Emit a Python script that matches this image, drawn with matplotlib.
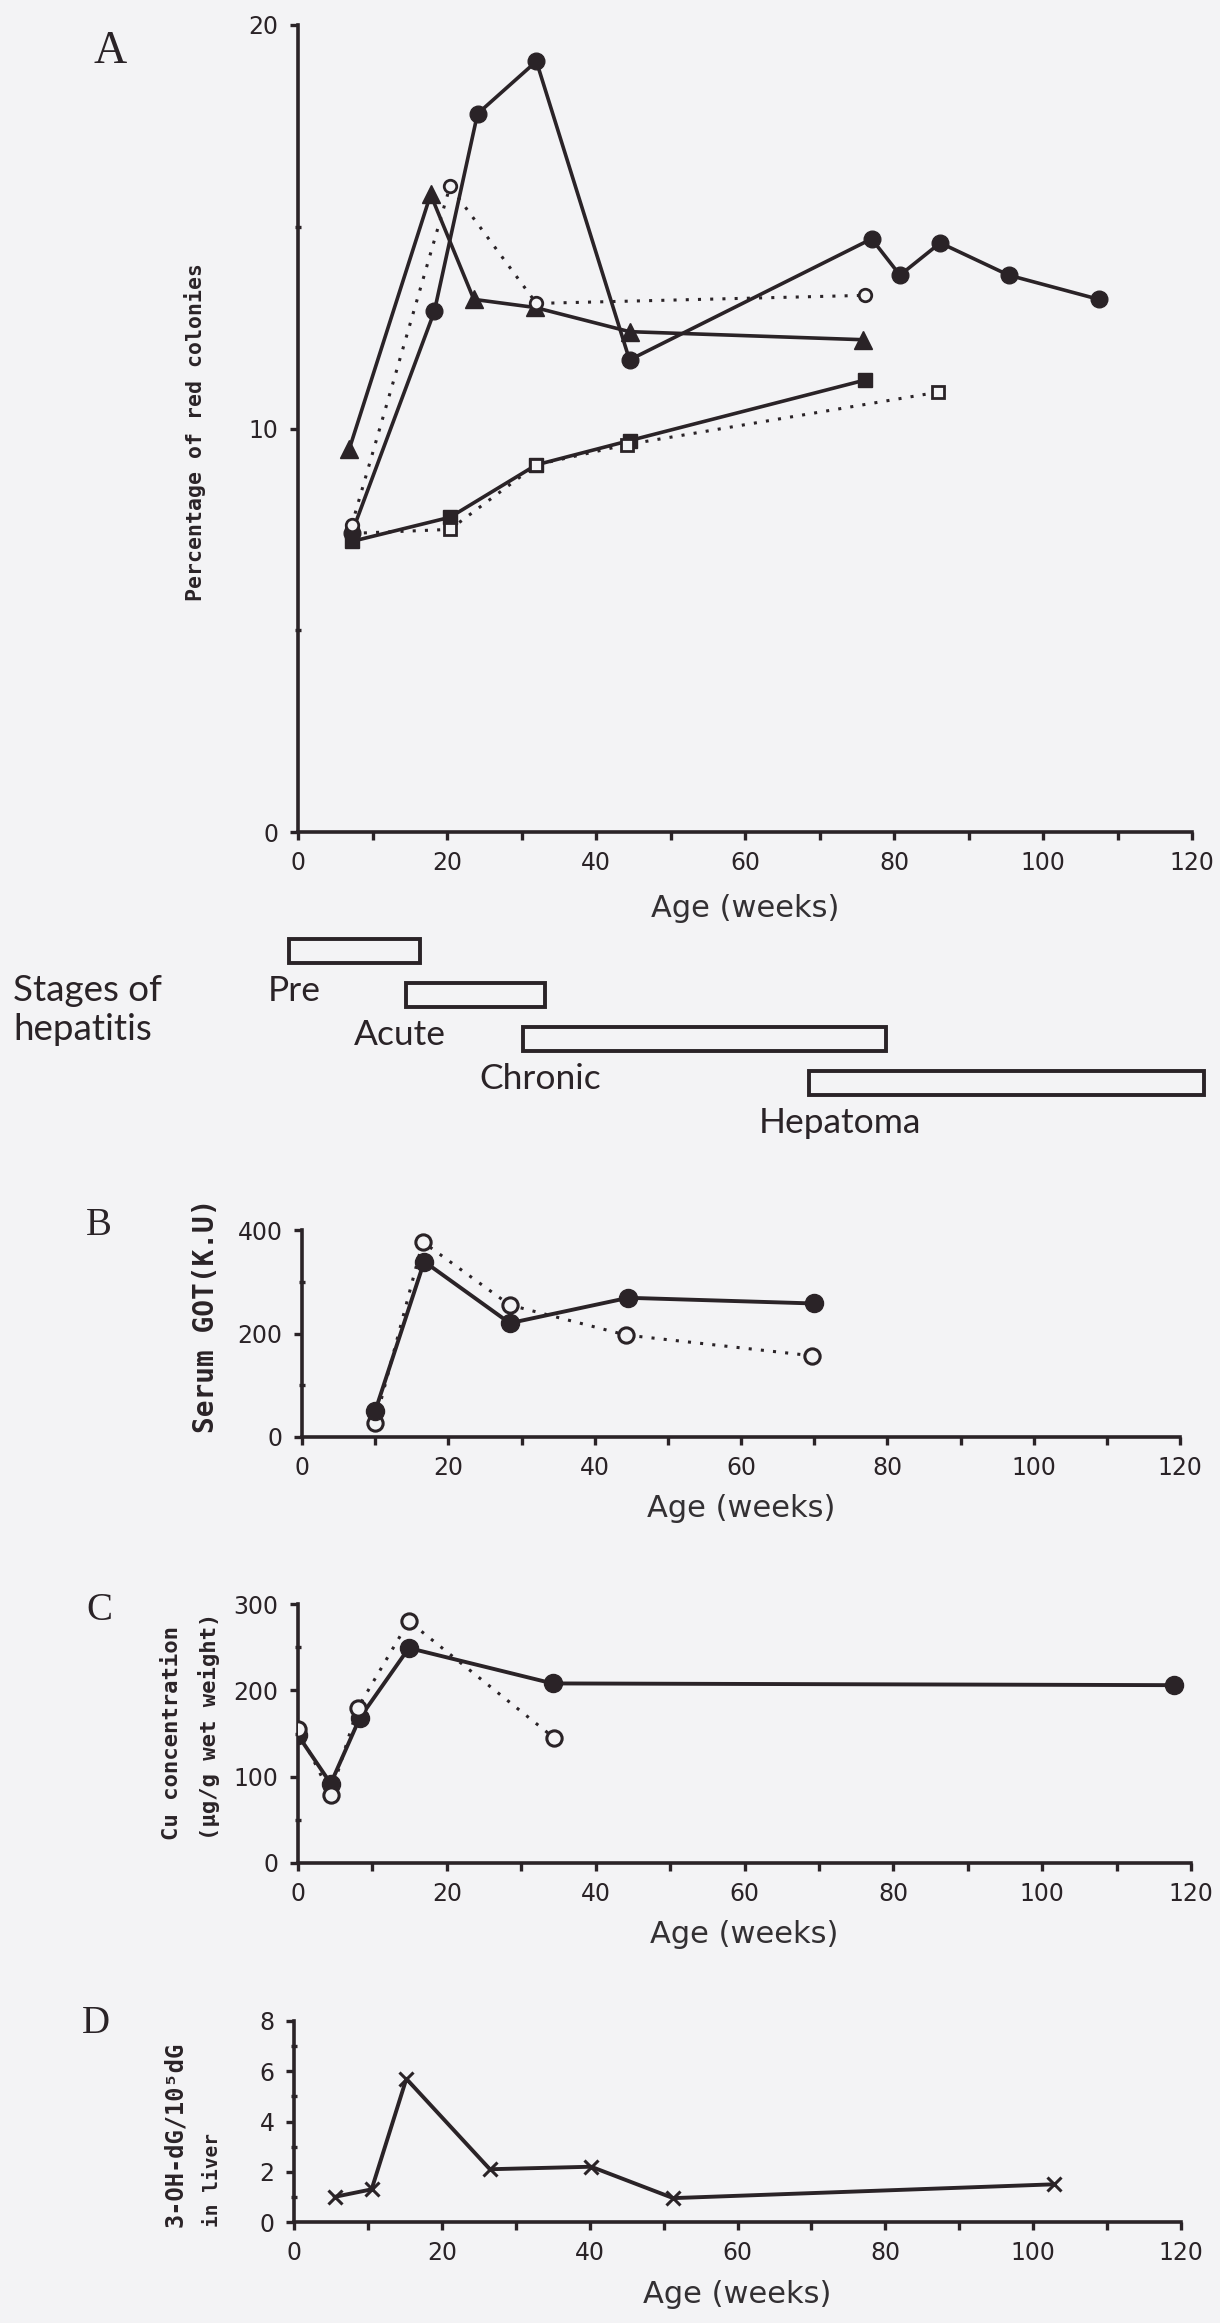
import numpy as np
import matplotlib.pyplot as plt
from matplotlib.ticker import MultipleLocator

# ---- data ----
# A: percentage of red colonies
a_fc_weeks = [7.2, 18.3, 24.1, 32.0, 44.5, 77.0, 80.8, 86.2, 95.4, 107.5]
a_fc_pct = [7.4, 12.9, 17.8, 19.1, 11.7, 14.7, 13.8, 14.6, 13.8, 13.2]
a_tri_weeks = [6.9, 17.8, 23.6, 31.8, 44.5, 75.9]
a_tri_pct = [9.5, 15.8, 13.2, 13.0, 12.4, 12.2]
a_oc_weeks = [7.2, 20.4, 32.0, 76.1]
a_oc_pct = [7.6, 16.0, 13.1, 13.3]
a_fs_weeks = [7.2, 20.4, 32.0, 44.5, 76.1]
a_fs_pct = [7.2, 7.8, 9.1, 9.7, 11.2]
a_os_weeks = [7.2, 20.4, 32.0, 44.1, 85.9]
a_os_pct = [7.4, 7.5, 9.1, 9.6, 10.9]

# stages of hepatitis (weeks)
stages = ['Pre', 'Acute', 'Chronic', 'Hepatoma']
stage_start = [-1.2, 14.5, 30.2, 68.6]
stage_end = [16.4, 33.2, 78.9, 121.6]

# B: serum GOT
b_fc_weeks = [10.0, 16.7, 28.4, 44.6, 70.0]
b_fc_got = [50, 339, 220, 269, 258]
b_oc_weeks = [10.0, 16.5, 28.4, 44.3, 69.7]
b_oc_got = [28, 377, 255, 197, 157]

# C: Cu concentration
c_fc_weeks = [0, 4.4, 8.3, 14.9, 34.2, 117.7]
c_fc_cu = [148, 92, 168, 249, 208, 206]
c_oc_weeks = [0, 4.4, 8.0, 14.9, 34.4]
c_oc_cu = [155, 79, 179, 280, 145]

# D: 3-OH-dG
d_weeks = [5.5, 10.5, 15.2, 26.5, 40.2, 51.3, 102.8]
d_ohdg = [1.0, 1.3, 5.7, 2.1, 2.2, 0.95, 1.5]

W, H = 1220, 2323
INK = '#2a2327'
BG = '#f3f3f5'
dotted = (0, (1, 3))
MONO = 'DejaVu Sans Mono'


def rect(x0, x1, ytop, ybot):
    return [x0 / W, 1 - ybot / H, (x1 - x0) / W, (ybot - ytop) / H]


fig = plt.figure(figsize=(W / 100, H / 100), dpi=100, facecolor=BG)


def style(ax, ymax, ymajor, yminor, label_top_px, ax_top, ax_bot):
    ax.set_facecolor('none')
    for s in ['top', 'right']:
        ax.spines[s].set_visible(False)
    for s in ['left', 'bottom']:
        ax.spines[s].set_linewidth(2.6)
        ax.spines[s].set_color(INK)
    ax.set_xlim(0, 120)
    ax.set_ylim(0, ymax)
    ax.xaxis.set_major_locator(MultipleLocator(20))
    ax.xaxis.set_minor_locator(MultipleLocator(10))
    ax.yaxis.set_major_locator(MultipleLocator(ymajor))
    ax.yaxis.set_minor_locator(MultipleLocator(yminor))
    ax.tick_params(axis='x', which='both', direction='out', length=6, width=2.4,
                   color=INK, labelsize=17, labelcolor=INK, pad=8)
    ax.tick_params(axis='y', which='major', direction='out', length=6, width=2.4,
                   color=INK, labelsize=17, labelcolor=INK, pad=8)
    ax.tick_params(axis='y', which='minor', direction='inout', length=5, width=2.4,
                   color=INK)
    ax.set_xlabel('Age (weeks)', fontsize=22, family='DejaVu Sans', color='#333033',
                  va='top')
    ax.xaxis.set_label_coords(0.5, (ax_bot - label_top_px) / (ax_bot - ax_top))


# ---- panel A ----
axA = fig.add_axes(rect(298, 1192, 25, 832))
style(axA, 20, 10, 5, 894, 25, 832)
axA.plot(a_fs_weeks, a_fs_pct, '-', color=INK, lw=2.6, marker='s', ms=10, zorder=3)
axA.plot(a_os_weeks, a_os_pct, linestyle=dotted, color=INK, lw=2.2, marker='s', ms=8,
         mfc=BG, mec=INK, mew=2, zorder=3)
axA.plot(a_oc_weeks, a_oc_pct, linestyle=dotted, color=INK, lw=2.2, marker='o', ms=9,
         mfc=BG, mec=INK, mew=2, zorder=4)
axA.plot(a_tri_weeks, a_tri_pct, '-', color=INK, lw=2.6, marker='^', ms=13, zorder=3)
axA.plot(a_fc_weeks, a_fc_pct, '-', color=INK, lw=2.6, marker='o', ms=12, zorder=3)
fig.text(195 / W, 1 - 432 / H, 'Percentage of red colonies', rotation=90,
         ha='center', va='center', fontsize=15.5, family=MONO,
         weight='bold', color=INK)

# ---- stages of hepatitis ----
axS = fig.add_axes(rect(298, 1192, 929, 1149))
axS.set_xlim(0, 120)
axS.set_ylim(4.5, -0.5)
axS.axis('off')
rows = np.arange(len(stages))
axS.barh(rows, np.array(stage_end) - np.array(stage_start), left=stage_start,
         height=0.53, color=BG, edgecolor=INK, linewidth=2.8, clip_on=False)
label_shift = [-2.8, -7.0, -5.9, -6.7]
for i, name in enumerate(stages):
    axS.text(stage_start[i] + label_shift[i], i + 1.13, name, fontsize=25.5,
             family='Lato', color=INK, ha='left', va='baseline', clip_on=False)
fig.text(13 / W, 1 - 1001 / H, 'Stages of', fontsize=26.5, family='Lato',
         color=INK, ha='left', va='baseline')
fig.text(13 / W, 1 - 1040 / H, 'hepatitis', fontsize=26.5, family='Lato',
         color=INK, ha='left', va='baseline')

# ---- panel B ----
axB = fig.add_axes(rect(302, 1180, 1230, 1437))
style(axB, 400, 200, 100, 1494, 1230, 1437)
axB.plot(b_oc_weeks, b_oc_got, linestyle=dotted, color=INK, lw=2.2, marker='o', ms=11,
         mfc=BG, mec=INK, mew=2.2, zorder=3)
axB.plot(b_fc_weeks, b_fc_got, '-', color=INK, lw=2.8, marker='o', ms=13, zorder=4)
fig.text(206 / W, 1 - 1316 / H, 'Serum GOT(K.U)', rotation=90, ha='center',
         va='center', fontsize=20, family=MONO, weight='bold', color=INK)

# ---- panel C ----
axC = fig.add_axes(rect(298, 1191, 1604, 1863))
style(axC, 300, 100, 50, 1920, 1604, 1863)
axC.plot(c_oc_weeks, c_oc_cu, linestyle=dotted, color=INK, lw=2.2, marker='o', ms=11,
         mfc=BG, mec=INK, mew=2.2, zorder=4)
axC.plot(c_fc_weeks, c_fc_cu, '-', color=INK, lw=2.8, marker='o', ms=13, zorder=3)
fig.text(172 / W, 1 - 1840 / H, 'Cu concentration', rotation=90, ha='center',
         va='bottom', fontsize=16, family=MONO, weight='bold', color=INK)
fig.text(209 / W, 1 - 1840 / H, '(\u00b5g/g wet weight)', rotation=90, ha='center',
         va='bottom', fontsize=16, family=MONO, weight='bold', color=INK)

# ---- panel D ----
axD = fig.add_axes(rect(294, 1181, 2021, 2222))
style(axD, 8, 2, 1, 2280, 2021, 2222)
axD.plot(d_weeks, d_ohdg, '-', color=INK, lw=2.8, marker='x', ms=10, mew=2.2)
fig.text(175 / W, 1 - 2227 / H, '3-OH-dG/10\u2075dG', rotation=90, ha='center',
         va='bottom', fontsize=17, family=MONO, weight='bold', color=INK)
fig.text(212 / W, 1 - 2227 / H, 'in liver', rotation=90, ha='center',
         va='bottom', fontsize=14, family=MONO, weight='bold', color=INK)

# ---- panel letters ----
for letter, x, y, size in [('A', 93, 63, 33), ('B', 86, 1235, 28),
                           ('C', 86, 1620, 28), ('D', 82, 2033, 28)]:
    fig.text(x / W, 1 - y / H, letter, fontsize=size, family='Liberation Serif',
             color=INK, ha='left', va='baseline')

plt.savefig('out.png', dpi=100, facecolor=BG)
